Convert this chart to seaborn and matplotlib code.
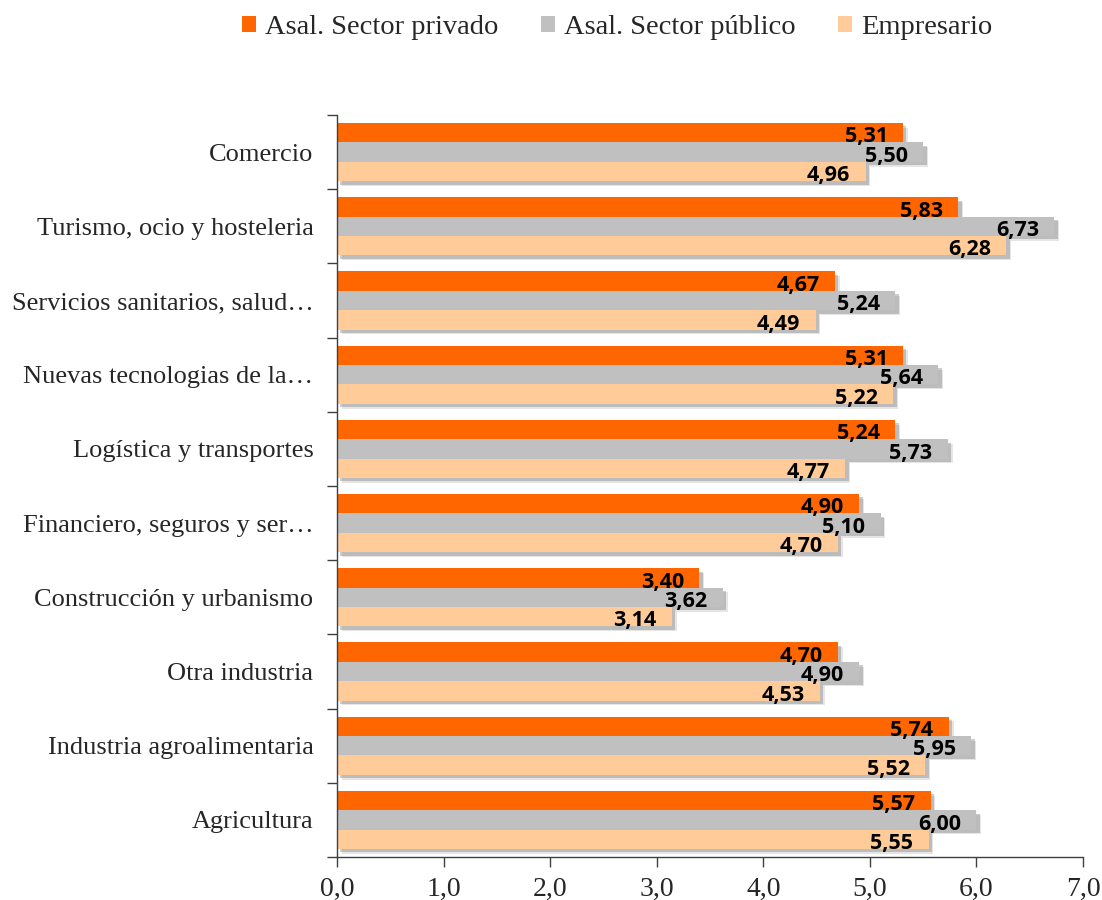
import pandas as pd
import matplotlib.pyplot as plt
import matplotlib.patheffects as pe
import seaborn as sns

# --- datos ---
sectores = [
    'Comercio',
    'Turismo, ocio y hosteleria',
    'Servicios sanitarios, salud…',
    'Nuevas tecnologias de la…',
    'Logística y transportes',
    'Financiero, seguros y ser…',
    'Construcción y urbanismo',
    'Otra industria',
    'Industria agroalimentaria',
    'Agricultura',
]
series = ['Asal. Sector privado', 'Asal. Sector público', 'Empresario']
privado = [5.31, 5.83, 4.67, 5.31, 5.24, 4.90, 3.40, 4.70, 5.74, 5.57]
publico = [5.50, 6.73, 5.24, 5.64, 5.73, 5.10, 3.62, 4.90, 5.95, 6.00]
empresario = [4.96, 6.28, 4.49, 5.22, 4.77, 4.70, 3.14, 4.53, 5.52, 5.55]
x_ticks = [0, 1, 2, 3, 4, 5, 6, 7]

colores = ['#FF6600', '#C0C0C0', '#FFCC99']

rows = []
for nombre, vals in zip(series, [privado, publico, empresario]):
    for s, v in zip(sectores, vals):
        rows.append({'Sector': s, 'Serie': nombre, 'Valor': v})
df = pd.DataFrame(rows)

sns.set_style('white')
plt.rcParams['font.family'] = ['Liberation Serif', 'DejaVu Serif']

fig = plt.figure(figsize=(11.02, 9), dpi=100)
ax = fig.add_axes([0.3058, 0.0478, 0.677, 0.8244])

sns.barplot(data=df, y='Sector', x='Valor', hue='Serie', order=sectores,
            hue_order=series, palette=colores, orient='h', width=0.785,
            saturation=1, linewidth=0, ax=ax)

# sombra suave de las barras (dos capas)
for bar in ax.patches:
    bar.set_path_effects([
        pe.SimplePatchShadow(offset=(3.5, -3.5), shadow_rgbFace='#9a9a9a', alpha=0.25),
        pe.SimplePatchShadow(offset=(2.5, -2.5), shadow_rgbFace='#707070', alpha=0.35),
        pe.Normal(),
    ])

# etiquetas de datos
for cont in ax.containers:
    for bar in cont:
        w = bar.get_width()
        yc = bar.get_y() + bar.get_height() / 2
        ax.annotate(f'{w:.2f}'.replace('.', ','), xy=(w, yc), xytext=(-11, -3),
                    textcoords='offset points', ha='right', va='center',
                    fontsize=15.5, fontweight='bold', color='black',
                    family=['Open Sans', 'Liberation Sans', 'DejaVu Sans'])

ax.set_xlim(0, 7)
ax.set_ylim(len(sectores) - 0.5, -0.5)
ax.set_xticks(x_ticks)
ax.set_xticklabels([f'{t:.1f}'.replace('.', ',') for t in x_ticks], fontsize=20)
ax.set_yticks(range(len(sectores)))
ax.set_yticklabels(sectores, fontsize=19)
ax.set_yticks([i - 0.5 for i in range(len(sectores) + 1)], minor=True)
ax.tick_params(axis='y', which='major', length=0, pad=17)
ax.tick_params(axis='y', which='minor', length=7, width=1, color='#404040', left=True)
ax.tick_params(axis='x', length=7, width=1, color='#404040', bottom=True, pad=7)
ax.set_xlabel('')
ax.set_ylabel('')

for side in ['top', 'right']:
    ax.spines[side].set_visible(False)
for side in ['left', 'bottom']:
    ax.spines[side].set_color('#404040')
    ax.spines[side].set_linewidth(1)

sns.move_legend(ax, 'center', bbox_to_anchor=(0.56, 0.969),
                bbox_transform=fig.transFigure, ncol=3, frameon=False, title=None,
                fontsize=20.5, handlelength=0.5, handleheight=0.5,
                handletextpad=0.3, columnspacing=1.5)
for h in ax.get_legend().legend_handles:
    h.set_path_effects([])

fig.savefig('out.png', dpi=100)
